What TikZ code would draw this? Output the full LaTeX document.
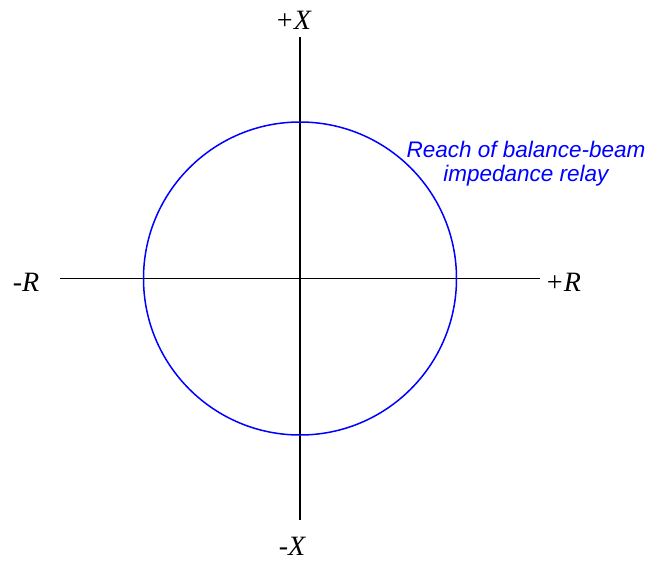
\documentclass[tikz,border=0pt]{standalone}
\usepackage{fontspec}
\setmainfont{Liberation Serif}
\newfontfamily\labelsans{Liberation Sans}
\begin{document}
\begin{tikzpicture}[x=1pt,y=-1pt,
  axis/.style={line width=1.6pt,black},
  reach/.style={line width=1.5pt,draw=blue},
  axlabel/.style={font=\fontsize{28}{32}\selectfont\itshape,inner sep=0pt},
  note/.style={font=\labelsans\fontsize{22.5}{23.5}\selectfont\itshape,text=blue,align=center,inner sep=0pt}]
\useasboundingbox (0,0) rectangle (648,560);
\coordinate (O) at (300,278.5);
\coordinate (L) at (60,278.5);
\coordinate (R) at (540,278.5);
\coordinate (T) at (300,37);
\coordinate (B) at (300,520);
\draw[axis] (L) -- (R);
\draw[axis] (T) -- (B);
\draw[reach] (O) circle[radius=156.5];
\node[axlabel] (px) at (293,20) {+X};
\node[axlabel] (mx) at (292,546) {-X};
\node[axlabel] (mr) at (26,282) {-R};
\node[axlabel] (pr) at (563,282) {+R};
\node[note] (txt) at (526,163.5) {Reach of balance-beam\\impedance relay};
\end{tikzpicture}
\end{document}
